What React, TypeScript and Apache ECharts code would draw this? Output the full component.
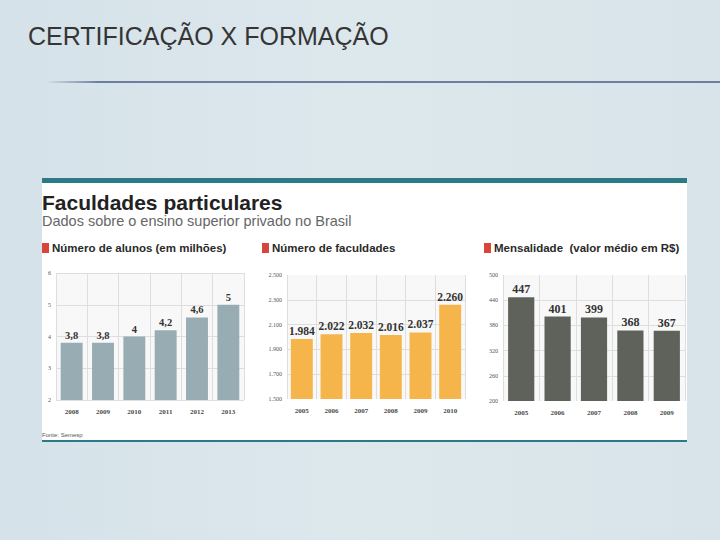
import React, { useEffect, useRef } from "react";
import * as echarts from "echarts";

const aluCats = ["2008", "2009", "2010", "2011", "2012", "2013"];
const aluVals = [3.8, 3.8, 4, 4.2, 4.6, 5];
const aluTicks = [2, 3, 4, 5, 6];

const facCats = ["2005", "2006", "2007", "2008", "2009", "2010"];
const facVals = [1984, 2022, 2032, 2016, 2037, 2260];
const facTicks = [1500, 1700, 1900, 2100, 2300, 2500];

const menCats = ["2005", "2006", "2007", "2008", "2009"];
const menVals = [447, 401, 399, 368, 367];
const menTicks = [200, 260, 320, 380, 440, 500];

const fmtThousands = (v: number) => String(v).replace(/\B(?=(\d{3})+(?!\d))/g, ".");
const fmtDecimal = (v: number) => String(v).replace(".", ",");

const SANS = "'Liberation Sans', Arial, sans-serif";
const SERIF = "'Liberation Serif', 'DejaVu Serif', serif";
const GRID_LINE = "#dedede";

export default function App() {
  const ref = useRef<HTMLDivElement>(null);
  useEffect(() => {
    document.body.style.margin = "0";
    if (!ref.current) return;
    const chart = echarts.init(ref.current, undefined, { renderer: "svg" });

    const grids = [
      { left: 56, top: 273, width: 188, height: 127 },
      { left: 287, top: 275, width: 178, height: 124 },
      { left: 503, top: 275, width: 182, height: 126 },
    ];
    const cats = [aluCats, facCats, menCats];
    const ticks = [aluTicks, facTicks, menTicks];
    const vals = [aluVals, facVals, menVals];
    const colors = ["#98adb3", "#f6b54b", "#5f625a"];
    const gaps = ["30%", "26%", "28%"];
    const labelSizes = [10.5, 11.5, 12];
    const labelFmt = [fmtDecimal, fmtThousands, (v: number) => String(v)];
    const axisFmt = [(v: number) => String(v), fmtThousands, (v: number) => String(v)];

    const option: any = {
      animation: false,
      backgroundColor: "#dbe6ec",
      grid: grids.map((g) => ({
        ...g,
        show: true,
        backgroundColor: "#f8f8f8",
        borderWidth: 0,
        containLabel: false,
      })),
      xAxis: cats.map((c, i) => ({
        type: "category",
        gridIndex: i,
        data: c,
        axisLine: { show: false },
        axisTick: { show: false },
        splitLine: { show: true, interval: 0, lineStyle: { color: GRID_LINE, width: 1 } },
        axisLabel: {
          interval: 0,
          fontSize: 7,
          fontFamily: SERIF,
          fontWeight: "bold",
          color: "#4a4a4a",
          margin: 8,
        },
      })),
      yAxis: ticks.map((t, i) => ({
        type: "value",
        gridIndex: i,
        min: t[0],
        max: t[t.length - 1],
        interval: i === 0 ? 1 : undefined,
        axisLine: { show: false },
        axisTick: { show: false },
        splitLine: { show: i === 0, lineStyle: { color: GRID_LINE, width: 1 } },
        axisLabel: {
          fontSize: 6,
          fontFamily: SERIF,
          color: "#555",
          margin: 5,
          formatter: (v: number) => axisFmt[i](v),
          ...(i === 0 ? {} : { customValues: t }),
        },
      })),
      series: vals.map((v, i) => ({
        type: "bar",
        xAxisIndex: i,
        yAxisIndex: i,
        data: v,
        barCategoryGap: gaps[i],
        itemStyle: { color: colors[i] },
        label: {
          show: true,
          position: "top",
          distance: 2,
          fontSize: labelSizes[i],
          fontFamily: SERIF,
          fontWeight: "bold",
          color: "#333",
          formatter: (p: any) => labelFmt[i](p.value),
        },
        markLine:
          i === 0
            ? undefined
            : {
                silent: true,
                symbol: "none",
                label: { show: false },
                lineStyle: { color: GRID_LINE, width: 1, type: "solid" },
                z: 0,
                data: ticks[i].slice(1, -1).map((y) => ({ yAxis: y })),
              },
        z: 3,
      })),
      graphic: [
        {
          type: "rect",
          z: -10,
          shape: { x: 0, y: 0, width: 720, height: 540 },
          style: {
            fill: new echarts.graphic.LinearGradient(0, 0, 1, 0, [
              { offset: 0, color: "#d5e2e9" },
              { offset: 0.5, color: "#dde8ed" },
              { offset: 1, color: "#d9e4ea" },
            ]),
          },
        },
        {
          type: "text",
          z: 5,
          x: 28,
          y: 23,
          style: {
            text: "CERTIFICAÇÃO X FORMAÇÃO",
            fontSize: 25,
            fontFamily: SANS,
            fill: "#353535",
          },
        },
        {
          type: "rect",
          z: 5,
          shape: { x: 45, y: 81, width: 675, height: 2 },
          style: {
            fill: new echarts.graphic.LinearGradient(0, 0, 1, 0, [
              { offset: 0, color: "rgba(110,126,160,0)" },
              { offset: 0.08, color: "#6e7ea0" },
              { offset: 1, color: "#6e7ea0" },
            ]),
          },
        },
        {
          type: "rect",
          z: -5,
          shape: { x: 42, y: 180, width: 645, height: 262 },
          style: { fill: "#ffffff" },
        },
        {
          type: "rect",
          z: -4,
          shape: { x: 42, y: 178, width: 645, height: 5 },
          style: { fill: "#2c7a85" },
        },
        {
          type: "rect",
          z: -4,
          shape: { x: 42, y: 440, width: 645, height: 2 },
          style: { fill: "#2c7a85" },
        },
        {
          type: "text",
          z: 5,
          x: 42,
          y: 192,
          style: {
            text: "Faculdades particulares",
            fontSize: 21,
            fontWeight: "bold",
            fontFamily: SANS,
            fill: "#222",
          },
        },
        {
          type: "text",
          z: 5,
          x: 42,
          y: 213,
          style: {
            text: "Dados sobre o ensino superior privado no Brasil",
            fontSize: 14.5,
            fontFamily: SANS,
            fill: "#666",
          },
        },
        ...[
          { x: 42, t: "Número de alunos (em milhões)", fs: 11.5 },
          { x: 262, t: "Número de faculdades", fs: 11.5 },
          { x: 484, t: "Mensalidade  (valor médio em R$)", fs: 11.5 },
        ].flatMap((h) => [
          {
            type: "rect",
            z: 5,
            shape: { x: h.x, y: 243, width: 7, height: 10 },
            style: { fill: "#d8453a" },
          },
          {
            type: "text",
            z: 5,
            x: h.x + 10,
            y: 242,
            style: {
              text: h.t,
              fontSize: h.fs,
              fontWeight: "bold",
              fontFamily: SANS,
              fill: "#2a2a2a",
            },
          },
        ]),
        {
          type: "text",
          z: 5,
          x: 42,
          y: 432,
          style: {
            text: "Fonte: Semesp",
            fontSize: 6,
            fontFamily: SANS,
            fill: "#555",
          },
        },
      ],
    };
    chart.setOption(option);
    return () => chart.dispose();
  }, []);
  return (
    <div
      ref={ref}
      style={{ position: "absolute", left: 0, top: 0, width: 720, height: 540 }}
    />
  );
}
